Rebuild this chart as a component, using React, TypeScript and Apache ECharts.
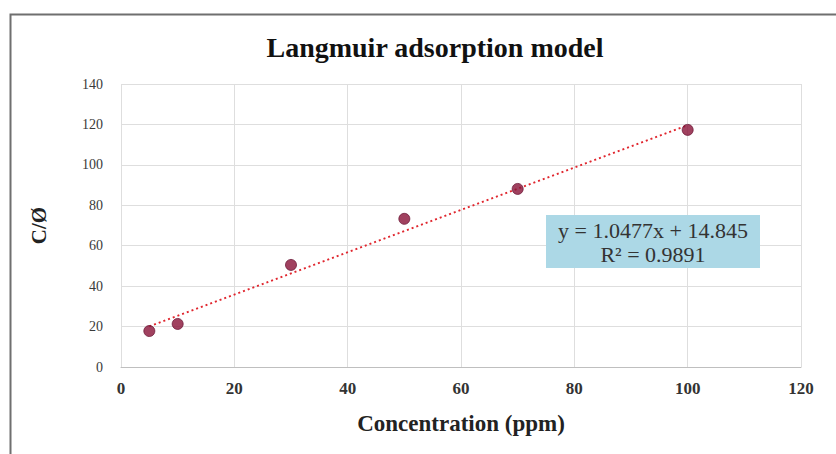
import React, { useEffect, useRef } from "react";
import * as echarts from "echarts";

const concentration = [5, 10, 30, 50, 70, 100];
const cOverQ = [17.8, 21.3, 50.5, 73.3, 88.1, 117.3];
const trendX = [5, 100];
const trendY = [20.1, 119.6];
const equationLines = ["y = 1.0477x + 14.845", "R² = 0.9891"];
const titleText = "Langmuir adsorption model";
const xName = "Concentration (ppm)";
const yName = "C/Ø";

export default function App() {
  const ref = useRef<HTMLDivElement>(null);
  useEffect(() => {
    if (!ref.current) return;
    const chart = echarts.init(ref.current, undefined, { renderer: "svg" });
    const serif = "Liberation Serif";
    chart.setOption({
      animation: false,
      backgroundColor: "#ffffff",
      title: {
        text: titleText,
        left: 430,
        top: 28,
        textAlign: "center",
        textStyle: { fontFamily: serif, fontWeight: "bold", fontSize: 28, color: "#111" },
      },
      grid: { left: 121, right: 35, top: 84, bottom: 87 },
      xAxis: {
        type: "value",
        min: 0,
        max: 120,
        interval: 20,
        name: xName,
        nameLocation: "middle",
        nameGap: 45,
        nameTextStyle: { fontFamily: serif, fontWeight: "bold", fontSize: 23, color: "#222" },
        axisLine: { show: true, lineStyle: { color: "#bfbfbf", width: 1 } },
        axisTick: { show: false },
        axisLabel: { fontFamily: serif, fontWeight: "bold", fontSize: 17, color: "#333", margin: 13 },
        splitLine: { show: true, lineStyle: { color: "#dedede", width: 1 } },
      },
      yAxis: {
        type: "value",
        min: 0,
        max: 140,
        interval: 20,
        name: yName,
        nameLocation: "middle",
        nameGap: 72,
        nameRotate: 90,
        nameTextStyle: { fontFamily: serif, fontWeight: "bold", fontSize: 21, color: "#222" },
        axisLine: { show: false },
        axisTick: { show: false },
        axisLabel: { fontFamily: serif, fontSize: 14, color: "#3a3a3a", margin: 18 },
        splitLine: { show: true, lineStyle: { color: "#dedede", width: 1 } },
      },
      series: [
        {
          type: "line",
          data: trendX.map((x, i) => [x, trendY[i]]),
          symbol: "none",
          lineStyle: { color: "#e0262e", width: 2, type: [2, 3] },
          z: 2,
        },
        {
          type: "scatter",
          data: concentration.map((x, i) => [x, cOverQ[i]]),
          symbol: "circle",
          symbolSize: 11,
          itemStyle: { color: "#881237", borderColor: "#6e1a3a", borderWidth: 1 },
          z: 3,
        },
      ],
      graphic: [
        {
          type: "rect",
          left: 8,
          top: 12,
          shape: { width: 840, height: 450 },
          style: { fill: "none", stroke: "#6f6f6f", lineWidth: 2 },
          silent: true,
        },
        {
          type: "rect",
          left: 546,
          top: 215,
          shape: { width: 214, height: 53 },
          style: { fill: "#acd8e6" },
          z: 10,
        },
        {
          type: "text",
          x: 653,
          y: 230,
          style: {
            text: equationLines[0],
            font: `22px "${serif}"`,
            fill: "#333",
            align: "center",
            verticalAlign: "middle",
          },
          z: 11,
        },
        {
          type: "text",
          x: 653,
          y: 254,
          style: {
            text: equationLines[1],
            font: `22px "${serif}"`,
            fill: "#333",
            align: "center",
            verticalAlign: "middle",
          },
          z: 11,
        },
      ],
    });
    return () => chart.dispose();
  }, []);
  return (
    <div
      ref={ref}
      style={{ position: "absolute", left: 0, top: 0, width: 836, height: 454 }}
    />
  );
}
